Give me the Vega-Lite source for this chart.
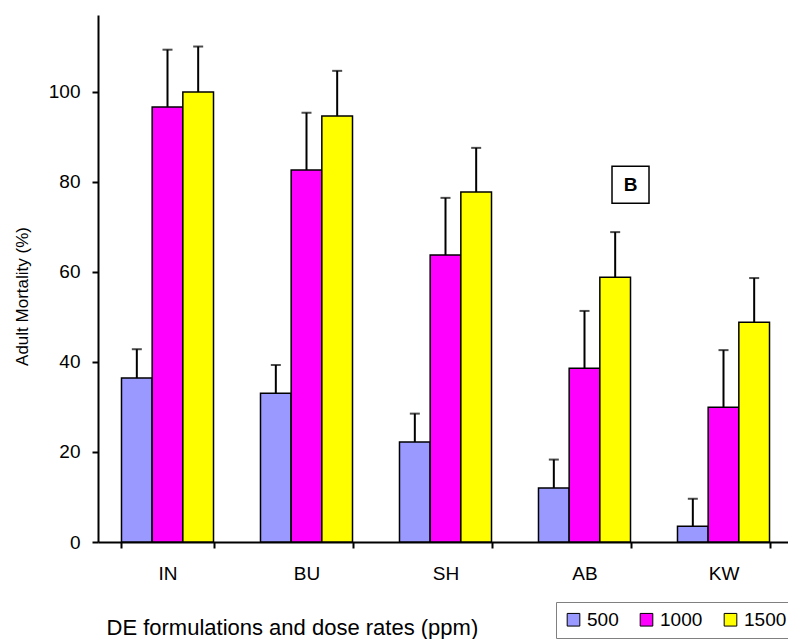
{
  "$schema": "https://vega.github.io/schema/vega-lite/v6.json",
  "autosize": "none",
  "padding": {"left": 98, "top": 15, "right": 0, "bottom": 97},
  "width": 695,
  "height": 527,
  "background": "white",
  "config": {
    "view": {"stroke": null},
    "font": "Liberation Sans",
    "axis": {"grid": false, "domainColor": "black", "tickColor": "black", "domainWidth": 2, "tickWidth": 2, "labelColor": "black", "titleColor": "black", "labelFont": "Liberation Sans", "titleFont": "Liberation Sans", "titleFontWeight": "normal"}
  },
  "data": {
    "values": [
      {"f": "IN", "dose": "500", "v": 36.4, "hi": 42.8},
      {"f": "IN", "dose": "1000", "v": 96.6, "hi": 109.3},
      {"f": "IN", "dose": "1500", "v": 99.9, "hi": 110.0},
      {"f": "BU", "dose": "500", "v": 33.0, "hi": 39.3},
      {"f": "BU", "dose": "1000", "v": 82.6, "hi": 95.3},
      {"f": "BU", "dose": "1500", "v": 94.6, "hi": 104.6},
      {"f": "SH", "dose": "500", "v": 22.2, "hi": 28.5},
      {"f": "SH", "dose": "1000", "v": 63.7, "hi": 76.4},
      {"f": "SH", "dose": "1500", "v": 77.7, "hi": 87.5},
      {"f": "AB", "dose": "500", "v": 12.0, "hi": 18.3},
      {"f": "AB", "dose": "1000", "v": 38.6, "hi": 51.3},
      {"f": "AB", "dose": "1500", "v": 58.8, "hi": 68.8},
      {"f": "KW", "dose": "500", "v": 3.5, "hi": 9.6},
      {"f": "KW", "dose": "1000", "v": 29.9, "hi": 42.6},
      {"f": "KW", "dose": "1500", "v": 48.8, "hi": 58.6}
    ]
  },
  "encoding": {
    "x": {
      "field": "f", "type": "nominal",
      "scale": {"domain": ["IN", "BU", "SH", "AB", "KW"], "paddingInner": 0.338, "paddingOuter": 0.169},
      "axis": {
        "title": "DE formulations and dose rates (ppm)",
        "labelAngle": 0, "labelFontSize": 19, "labelPadding": 16, "tickSize": 6, "tickBand": "extent",
        "titleFontSize": 22, "titleX": 8, "titleY": 85, "titleAlign": "left", "titleBaseline": "middle", "titleAnchor": "start"
      }
    },
    "y": {
      "type": "quantitative",
      "scale": {"domain": [0, 117], "nice": false},
      "axis": {
        "title": "Adult Mortality (%)", "values": [0, 20, 40, 60, 80, 100],
        "labelFontSize": 19, "labelPadding": 12, "tickSize": 6,
        "titleFontSize": 17, "titleX": -76, "titleY": 281, "titleAlign": "center", "titleBaseline": "middle", "titleAngle": -90
      }
    }
  },
  "layer": [
    {
      "mark": {"type": "bar", "stroke": "black", "strokeWidth": 1.5},
      "encoding": {
        "y": {"field": "v", "type": "quantitative"},
        "xOffset": {"field": "dose", "type": "nominal", "scale": {"domain": ["500", "1000", "1500"], "paddingInner": 0, "paddingOuter": 0}},
        "fill": {
          "field": "dose", "type": "nominal",
          "scale": {"domain": ["500", "1000", "1500"], "range": ["#9999FF", "#FF00FF", "#FFFF00"]},
          "legend": {
            "title": null, "orient": "none", "legendX": 458, "legendY": 587, "direction": "horizontal",
            "strokeColor": "#808080", "padding": 8, "symbolType": "square", "symbolSize": 160,
            "symbolStrokeColor": "black", "symbolStrokeWidth": 1, "labelFontSize": 19, "labelColor": "black",
            "labelFont": "Liberation Sans", "labelOffset": 4, "columnPadding": 18, "fillColor": "white"
          }
        }
      }
    },
    {
      "mark": {"type": "rule", "color": "black", "strokeWidth": 2},
      "encoding": {
        "y": {"field": "v", "type": "quantitative"},
        "y2": {"field": "hi"},
        "xOffset": {"field": "dose", "type": "nominal"}
      }
    },
    {
      "mark": {"type": "tick", "color": "black", "size": 10, "thickness": 2, "orient": "horizontal"},
      "encoding": {
        "y": {"field": "hi", "type": "quantitative"},
        "xOffset": {"field": "dose", "type": "nominal"}
      }
    },
    {
      "data": {"values": [{"lab": "B", "pos": "AB", "yy": 79.3}]},
      "mark": {"type": "point", "shape": "square", "size": 1369, "filled": true, "fill": "white", "stroke": "black", "strokeWidth": 1.5, "opacity": 1},
      "encoding": {
        "x": {"field": "pos", "type": "nominal", "bandPosition": 1},
        "y": {"field": "yy", "type": "quantitative"}
      }
    },
    {
      "data": {"values": [{"lab": "B", "pos": "AB", "yy": 79.3}]},
      "mark": {"type": "text", "fontSize": 19, "fontWeight": "bold", "color": "black", "align": "center", "baseline": "middle"},
      "encoding": {
        "x": {"field": "pos", "type": "nominal", "bandPosition": 1},
        "y": {"field": "yy", "type": "quantitative"},
        "text": {"field": "lab"}
      }
    }
  ]
}
